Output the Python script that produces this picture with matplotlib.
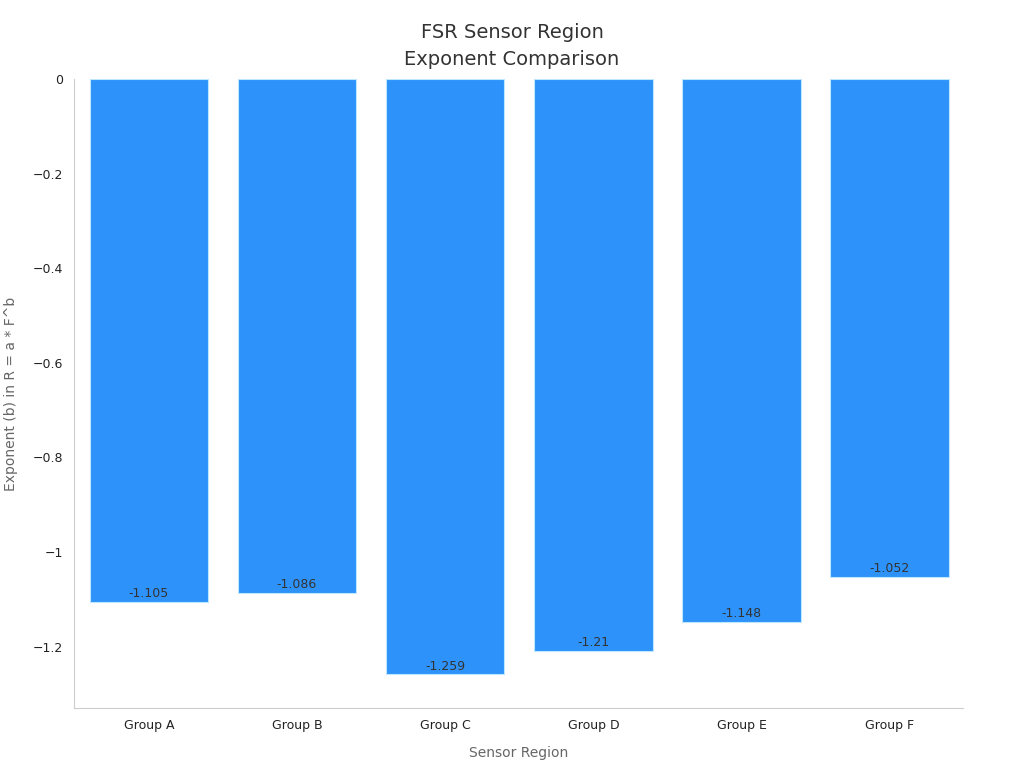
import matplotlib
matplotlib.use("Agg")
import matplotlib.pyplot as plt

categories = ["Group A", "Group B", "Group C", "Group D", "Group E", "Group F"]
values = [-1.105, -1.086, -1.259, -1.21, -1.148, -1.052]
labels = ["-1.105", "-1.086", "-1.259", "-1.21", "-1.148", "-1.052"]

fig = plt.figure(figsize=(10.24, 7.68), dpi=100)
ax = fig.add_axes([74/1024, 1-708/768, (963-74)/1024, (708-79)/768])
x = range(len(categories))
ax.bar(x, values, width=0.8, color="#2D92FA", edgecolor="#BDE6FF", linewidth=0.8)
for xi, v, t in zip(x, values, labels):
    ax.text(xi, v + 0.004, t, ha="center", va="bottom", fontsize=9, color="#333333")
ax.set_xlim(-0.505, 5.495)
ax.set_ylim(-1.33, 0)
ax.set_xticks(list(x))
ax.set_xticklabels(categories, fontsize=9, color="#222222")
ax.set_yticks([0, -0.2, -0.4, -0.6, -0.8, -1, -1.2])
ax.set_yticklabels(["0", "\u22120.2", "\u22120.4", "\u22120.6", "\u22120.8", "\u22121", "\u22121.2"], fontsize=9, color="#222222")
for s in ["top", "right"]:
    ax.spines[s].set_visible(False)
for s in ["left", "bottom"]:
    ax.spines[s].set_color("#CCCCCC")
ax.tick_params(length=0, pad=8)
ax.set_xlabel("Sensor Region", fontsize=10, color="#666666", labelpad=10)
ax.set_ylabel("Exponent (b) in R = a * F^b", fontsize=10, color="#666666", labelpad=10)
fig.text(512/1024, 1-46/768, "FSR Sensor Region\nExponent Comparison", ha="center", va="center",
         fontsize=14, color="#333333", linespacing=1.5)
fig.savefig("out.png", dpi=100)
